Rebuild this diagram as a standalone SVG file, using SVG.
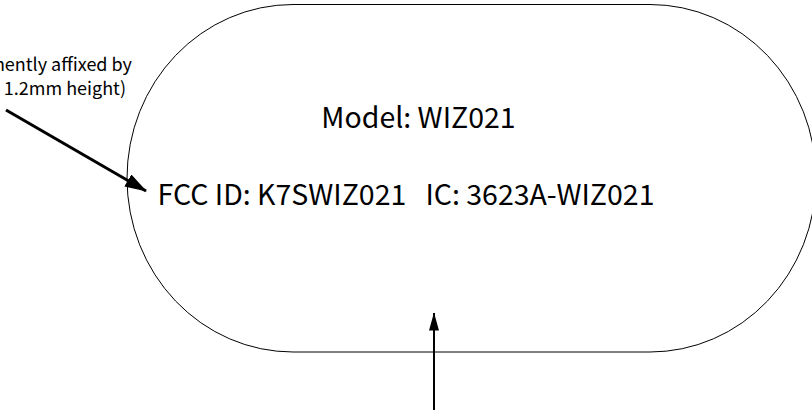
<svg xmlns="http://www.w3.org/2000/svg" width="812" height="412" viewBox="0 0 812 412">
<style>
.lbl{font-family:"Noto Sans CJK SC","Source Sans Pro","Noto Sans",sans-serif;fill:#000;white-space:pre}
.big{font-size:28.5px}
.small{font-size:18px}
.conn{stroke:#000;fill:none}
</style>
<defs>
<marker id="ah" markerWidth="22" markerHeight="14" refX="21" refY="7" orient="auto" markerUnits="userSpaceOnUse"><path d="M0,0 L22,7 L0,14 Z" fill="#000"/></marker>
<marker id="ah2" markerWidth="18" markerHeight="10" refX="17.5" refY="5" orient="auto" markerUnits="userSpaceOnUse"><path d="M0,0 L18,5 L0,10 Z" fill="#000"/></marker>
</defs>
<rect width="812" height="412" fill="#fff"/>
<g id="label">
<rect x="127" y="4.5" width="689" height="347.5" rx="166" ry="174" fill="#fff" stroke="#000" stroke-width="1"/>
<text class="lbl big" x="418.5" y="128" text-anchor="middle">Model: WIZ021</text>
<text class="lbl big" x="406" y="205" text-anchor="middle" xml:space="preserve">FCC ID: K7SWIZ021   IC: 3623A-WIZ021</text>
</g>
<g id="note">
<text class="lbl small" x="132" y="71" text-anchor="end">nently affixed by</text>
<text class="lbl small" x="126" y="95" text-anchor="end">1.2mm height)</text>
</g>
<g id="connectors">
<line class="conn" x1="6" y1="110" x2="146" y2="191" stroke-width="3" marker-end="url(#ah)"/>
<line class="conn" x1="434" y1="410" x2="434" y2="313" stroke-width="2" marker-end="url(#ah2)"/>
</g>
</svg>
